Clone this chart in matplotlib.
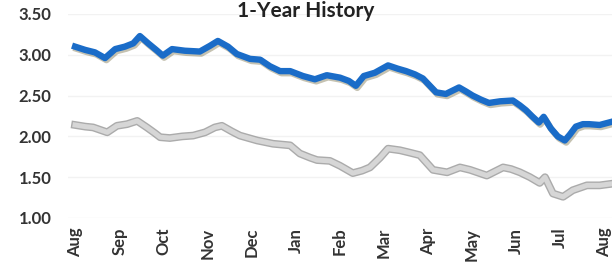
import matplotlib
matplotlib.use('Agg')
import matplotlib.pyplot as plt
import matplotlib.patheffects as pe

months = ['Aug', 'Sep', 'Oct', 'Nov', 'Dec', 'Jan', 'Feb', 'Mar', 'Apr', 'May', 'Jun', 'Jul', 'Aug']

# x in months since the first Aug
blue_x = [0, 0.23, 0.45, 0.68, 0.91, 1.13, 1.32, 1.47, 1.66, 1.84, 1.99, 2.20, 2.49, 2.83,
          3.06, 3.24, 3.47, 3.67, 3.97, 4.20, 4.42, 4.65, 4.88, 5.17, 5.44, 5.71, 6.01, 6.21,
          6.37, 6.55, 6.80, 7.10, 7.32, 7.51, 7.71, 7.89, 8.19, 8.41, 8.71, 8.87, 9.02, 9.21,
          9.39, 9.64, 9.93, 10.09, 10.23, 10.36, 10.52, 10.63, 10.79, 10.95, 11.11, 11.22,
          11.36, 11.52, 11.66, 11.90, 12.18]
blue_y = [3.10, 3.06, 3.03, 2.96, 3.07, 3.10, 3.14, 3.23, 3.14, 3.06, 2.99, 3.07, 3.05, 3.04,
          3.11, 3.17, 3.10, 3.01, 2.95, 2.94, 2.86, 2.80, 2.80, 2.74, 2.70, 2.75, 2.72, 2.68,
          2.62, 2.74, 2.78, 2.87, 2.83, 2.80, 2.76, 2.71, 2.54, 2.52, 2.60, 2.55, 2.50, 2.45,
          2.41, 2.43, 2.44, 2.38, 2.32, 2.25, 2.17, 2.24, 2.10, 2.00, 1.95, 2.02,
          2.12, 2.15, 2.15, 2.14, 2.18]

grey_x = [0, 0.23, 0.41, 0.57, 0.73, 0.95, 1.18, 1.41, 1.63, 1.81, 1.93, 2.15, 2.43, 2.68,
          2.95, 3.17, 3.33, 3.56, 3.74, 4.13, 4.49, 4.88, 5.10, 5.33, 5.49, 5.78, 6.01, 6.30,
          6.51, 6.69, 6.92, 7.10, 7.37, 7.60, 7.82, 8.12, 8.44, 8.73, 8.96, 9.34, 9.71, 9.89,
          10.09, 10.32, 10.54, 10.66, 10.84, 11.07, 11.29, 11.61, 11.90, 12.18]
grey_y = [2.14, 2.12, 2.11, 2.08, 2.05, 2.13, 2.15, 2.19, 2.11, 2.04, 1.99, 1.98, 2.00, 2.01,
          2.05, 2.11, 2.13, 2.06, 2.01, 1.95, 1.91, 1.89, 1.79, 1.74, 1.71, 1.70, 1.64, 1.55,
          1.58, 1.62, 1.74, 1.85, 1.83, 1.80, 1.77, 1.59, 1.56, 1.62, 1.59, 1.52, 1.62, 1.60,
          1.56, 1.50, 1.43, 1.50, 1.30, 1.26, 1.34, 1.40, 1.40, 1.42]

yticks = [1.00, 1.50, 2.00, 2.50, 3.00, 3.50]

plt.rcParams['font.family'] = ['Lato', 'DejaVu Sans']

fig = plt.figure(figsize=(6.12, 2.66), dpi=100)
ax = fig.add_axes([68 / 612, 48 / 266, 1 - 68 / 612, 204 / 266])

ax.plot(grey_x, grey_y, color='#d6d6d6', lw=3.6, solid_joinstyle='round',
        path_effects=[pe.Stroke(linewidth=5.6, foreground='#8f8f8f', alpha=0.75), pe.Normal()])
ax.plot(blue_x, blue_y, color='#1a6cc8', lw=4.6, solid_joinstyle='round',
        path_effects=[pe.SimpleLineShadow(offset=(1, -1.5), shadow_color='#5a5020', alpha=0.35),
                      pe.Normal()])

ax.set_xlim(-0.16, 12.18)
ax.set_ylim(1.0, 3.5)
ax.set_xticks(range(len(months)))
ax.set_xticklabels(months, rotation=90, fontsize=12, fontweight='bold', color='#333333')
ax.set_yticks(yticks)
ax.set_yticklabels([f'{v:.2f}' for v in yticks], fontsize=12, fontweight='bold', color='#333333')
ax.tick_params(length=0, pad=7)
ax.tick_params(axis='y', pad=12)
for s in ax.spines.values():
    s.set_visible(False)
ax.grid(axis='y', color='#f2f2f2', lw=1)
ax.set_axisbelow(True)

fig.text(0.5, 0.935, '1-Year History', ha='center', va='baseline',
         fontsize=15, fontweight='bold', color='#222222')

fig.savefig('out.png', dpi=100)
